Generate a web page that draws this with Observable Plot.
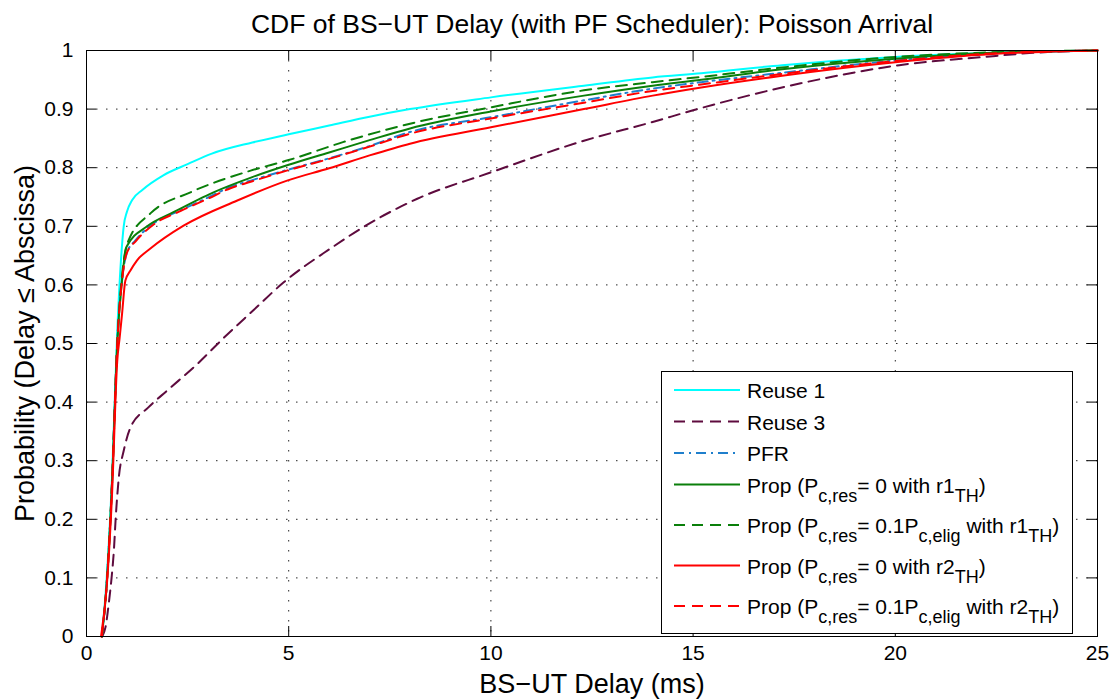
<!DOCTYPE html>
<html>
<head>
<meta charset="utf-8">
<script src="https://cdn.jsdelivr.net/npm/d3@7"></script>
<script src="https://cdn.jsdelivr.net/npm/@observablehq/plot@0.6"></script>
<style>
  html, body { margin: 0; padding: 0; background: #fff; }
  #chart { width: 1119px; height: 700px; }
  svg { font-family: "Liberation Sans", Arial, Helvetica, sans-serif; }
</style>
</head>
<body>
<div id="chart"></div>
<script>
// ---------- data ----------
const titleText = "CDF of BS\u2212UT Delay (with PF Scheduler): Poisson Arrival";
const xLabelText = "BS\u2212UT Delay (ms)";
const yLabelText = "Probability (Delay \u2264 Abscissa)";

const xTicks = [0, 5, 10, 15, 20, 25];
const xTickLabels = ["0", "5", "10", "15", "20", "25"];
const yTicks = [0, 0.1, 0.2, 0.3, 0.4, 0.5, 0.6, 0.7, 0.8, 0.9, 1];
const yTickLabels = ["0", "0.1", "0.2", "0.3", "0.4", "0.5", "0.6", "0.7", "0.8", "0.9", "1"];

const seriesNames = [
  "Reuse 1",
  "Reuse 3",
  "PFR",
  "Prop (P_{c,res}= 0 with r1_{TH})",
  "Prop (P_{c,res}= 0.1P_{c,elig} with r1_{TH})",
  "Prop (P_{c,res}= 0 with r2_{TH})",
  "Prop (P_{c,res}= 0.1P_{c,elig} with r2_{TH})"
];

const reuse1X = [0.38, 0.5, 0.63, 0.76, 0.85, 0.92, 1.0, 1.13, 1.38, 1.9, 2.5, 3.1, 4.1, 5, 6, 7, 8, 10, 12.3, 14, 15.2, 17.2, 20, 22.4, 25];
const reuse1Y = [0, 0.10, 0.27, 0.52, 0.64, 0.70, 0.725, 0.745, 0.762, 0.787, 0.806, 0.824, 0.843, 0.857, 0.872, 0.887, 0.90, 0.92, 0.94, 0.954, 0.961, 0.975, 0.989, 0.996, 1];

const reuse3X = [0.39, 0.47, 0.55, 0.62, 0.68, 0.72, 0.76, 0.8, 0.92, 1.09, 1.53, 2.0, 2.74, 3.4, 4.1, 4.87, 6.03, 7, 8.18, 10, 12.3, 14, 15, 17.66, 20.1, 22.2, 23.4, 25];
const reuse3Y = [0, 0.016, 0.056, 0.10, 0.15, 0.20, 0.24, 0.272, 0.317, 0.357, 0.391, 0.42, 0.465, 0.51, 0.555, 0.604, 0.662, 0.705, 0.747, 0.792, 0.846, 0.878, 0.898, 0.944, 0.975, 0.989, 0.996, 1];

const pfrX = [0.38, 0.5, 0.63, 0.76, 0.9, 1.0, 1.21, 1.66, 2.32, 3.0, 3.56, 4.06, 5, 6, 7, 8, 10, 12.3, 14, 15.2, 17.2, 20, 22.4, 25];
const pfrY = [0, 0.09, 0.26, 0.5, 0.62, 0.655, 0.676, 0.705, 0.727, 0.749, 0.767, 0.778, 0.797, 0.816, 0.837, 0.861, 0.886, 0.915, 0.935, 0.946, 0.962, 0.983, 0.995, 1];

const propR1X = [0.38, 0.5, 0.63, 0.76, 0.88, 0.99, 1.5, 2.15, 3.14, 4.1, 5, 6, 7, 8, 10, 12.3, 14, 15.2, 17.2, 20, 22.4, 25];
const propR1Y = [0, 0.09, 0.26, 0.5, 0.61, 0.665, 0.70, 0.724, 0.758, 0.784, 0.805, 0.826, 0.847, 0.867, 0.896, 0.923, 0.94, 0.95, 0.968, 0.986, 0.996, 1];

const propR1ResX = [0.38, 0.5, 0.63, 0.76, 0.9, 1.04, 1.58, 2.57, 4.06, 5, 6.36, 8.18, 10, 12.3, 14, 15.2, 17.2, 20, 22.4, 25];
const propR1ResY = [0, 0.09, 0.26, 0.5, 0.63, 0.676, 0.722, 0.758, 0.795, 0.813, 0.844, 0.878, 0.903, 0.932, 0.946, 0.955, 0.971, 0.989, 0.997, 1];

const propR2X = [0.36, 0.5, 0.63, 0.76, 0.82, 0.88, 0.96, 1.09, 1.25, 1.58, 2.4, 3.73, 4.96, 6, 7, 8, 10, 12.3, 14, 15.2, 17.2, 20, 22.4, 25];
const propR2Y = [0, 0.085, 0.24, 0.47, 0.51, 0.551, 0.607, 0.625, 0.642, 0.662, 0.701, 0.744, 0.778, 0.799, 0.821, 0.841, 0.869, 0.90, 0.923, 0.937, 0.957, 0.98, 0.994, 1];

const propR2ResX = [0.38, 0.5, 0.63, 0.76, 0.9, 1.0, 1.21, 1.66, 2.32, 3.0, 3.56, 4.06, 5, 6, 7, 8, 10, 12.3, 14, 15.2, 17.2, 20, 22.4, 25];
const propR2ResY = [0, 0.09, 0.26, 0.5, 0.62, 0.655, 0.674, 0.703, 0.726, 0.747, 0.765, 0.776, 0.796, 0.815, 0.836, 0.858, 0.884, 0.911, 0.931, 0.942, 0.96, 0.982, 0.995, 1];

// ---------- styles ----------
const seriesXs = [reuse1X, reuse3X, pfrX, propR1X, propR1ResX, propR2X, propR2ResX];
const seriesYs = [reuse1Y, reuse3Y, pfrY, propR1Y, propR1ResY, propR2Y, propR2ResY];
const seriesColors = ["#00FFFF", "#5E0B3E", "#1F7FCC", "#0A7F0A", "#0A7F0A", "#FF0000", "#FF0000"];
const seriesDashes = [null, "11,7", "10,5,2,5", null, "11,7", null, "11,7"];

const W = 1119, H = 700;
const mL = 86, mR = 22, mT = 50, mB = 64;
const innerW = W - mL - mR, innerH = H - mT - mB;
const tickLen = 10;
const FONT = "'Liberation Sans', Arial, Helvetica, sans-serif";

const tables = seriesXs.map((xs, k) => xs.map((x, i) => ({x, y: seriesYs[k][i], s: seriesNames[k]})));

const chart = Plot.plot({
  width: W, height: H,
  marginLeft: mL, marginRight: mR, marginTop: mT, marginBottom: mB,
  style: {fontFamily: FONT, color: "#000", background: "#fff", overflow: "visible"},
  x: {domain: [0, 25], label: null},
  y: {domain: [0, 1], label: null},
  marks: [
    Plot.ruleX(xTicks.slice(1, -1), {stroke: "#000", strokeWidth: 1, strokeDasharray: "1.5,8.5", strokeOpacity: 0.85}),
    Plot.ruleY(yTicks.slice(1, -1), {stroke: "#000", strokeWidth: 1, strokeDasharray: "1.5,8.5", strokeOpacity: 0.85}),
    ...tables.map((t, k) => Plot.line(t, {
      x: "x", y: "y",
      stroke: seriesColors[k],
      strokeWidth: 2,
      strokeDasharray: seriesDashes[k],
      curve: "monotone-x"
    })),
    Plot.frame({stroke: "#000", strokeWidth: 1}),
    Plot.ruleX(xTicks, {stroke: "#000", insetTop: innerH - tickLen}),
    Plot.ruleX(xTicks, {stroke: "#000", insetBottom: innerH - tickLen}),
    Plot.ruleY(yTicks, {stroke: "#000", insetRight: innerW - tickLen}),
    Plot.ruleY(yTicks, {stroke: "#000", insetLeft: innerW - tickLen}),
    Plot.axisX(xTicks, {tickSize: 0, tickPadding: 9, fontSize: 21, label: null,
      tickFormat: d => xTickLabels[xTicks.indexOf(d)]}),
    Plot.axisY(yTicks, {tickSize: 0, tickPadding: 13, fontSize: 21, label: null,
      tickFormat: d => yTickLabels[yTicks.indexOf(d)]}),
    Plot.text([titleText], {frameAnchor: "top", textAnchor: "middle", lineAnchor: "bottom", dy: -18, fontSize: 26.5, fill: "#000"}),
    Plot.text([xLabelText], {frameAnchor: "bottom", textAnchor: "middle", lineAnchor: "bottom", dy: 56, fontSize: 27, fill: "#000"}),
    Plot.text([yLabelText], {frameAnchor: "left", textAnchor: "middle", lineAnchor: "bottom", rotate: -90, dx: -53, fontSize: 27, fill: "#000"})
  ]
});

document.getElementById("chart").appendChild(chart);

// ---------- legend (inside the axes, lower right) ----------
const svg = d3.select(chart);
const lg = svg.append("g").attr("font-family", FONT).attr("font-size", 21).attr("fill", "#000")
  .attr("text-anchor", "start");
const box = {x: 661.5, y: 371.5, w: 411, h: 262};
lg.append("rect").attr("x", box.x).attr("y", box.y).attr("width", box.w).attr("height", box.h)
  .attr("fill", "#fff").attr("stroke", "#000").attr("stroke-width", 1);

function parseLabel(str) {
  const parts = [];
  const re = /_\{([^}]*)\}/g;
  let last = 0, m;
  while ((m = re.exec(str))) {
    if (m.index > last) parts.push({t: str.slice(last, m.index), sub: false});
    parts.push({t: m[1], sub: true});
    last = re.lastIndex;
  }
  if (last < str.length) parts.push({t: str.slice(last), sub: false});
  return parts;
}

let baseline = box.y + 26.5;
seriesNames.forEach((name, k) => {
  const parts = parseLabel(name);
  const hasSub = parts.some(p => p.sub);
  const ly = baseline - 8;
  lg.append("line")
    .attr("x1", 674).attr("x2", 740).attr("y1", ly).attr("y2", ly)
    .attr("stroke", seriesColors[k]).attr("stroke-width", 2)
    .attr("stroke-dasharray", seriesDashes[k] || null);
  const txt = lg.append("text").attr("x", 747).attr("y", baseline).attr("text-anchor", "start");
  let shifted = false;
  parts.forEach(p => {
    const ts = txt.append("tspan").text(p.t);
    if (p.sub && !shifted) { ts.attr("dy", 9).attr("font-size", 18); shifted = true; }
    else if (p.sub) { ts.attr("font-size", 18); }
    else if (!p.sub && shifted) { ts.attr("dy", -9); shifted = false; }
  });
  baseline += hasSub ? 40.5 : 31.5;
});
</script>
</body>
</html>
